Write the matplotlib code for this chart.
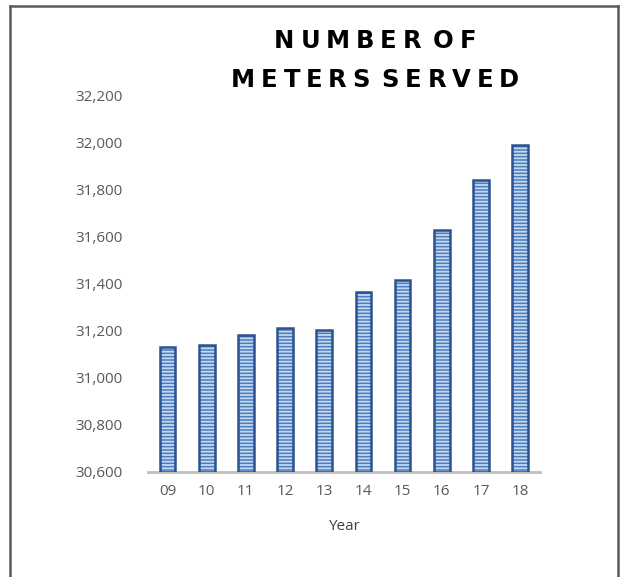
import matplotlib.pyplot as plt
import numpy as np
from matplotlib.lines import Line2D
from matplotlib.font_manager import FontProperties
from matplotlib.ticker import FuncFormatter

years = ['09', '10', '11', '12', '13', '14', '15', '16', '17', '18']
meters = [31132, 31140, 31183, 31213, 31204, 31366, 31417, 31630, 31843, 31991]
yticks = [30600, 30800, 31000, 31200, 31400, 31600, 31800, 32000, 32200]
title_lines = ['NUMBER OF', 'METERS SERVED']

W, H = 624, 577
plt.rcParams['hatch.linewidth'] = 1.3

fig = plt.figure(figsize=(W / 100, H / 100), dpi=100)
ax = fig.add_axes([0.237, 0.182, 0.628, 0.652])

x = np.arange(len(years))
heights = [m - 30600 for m in meters]
# striped fill
ax.bar(x, heights, bottom=30600, width=0.4,
       color='#4A7CC0', edgecolor='#C6D8EF', hatch='-----', linewidth=0, zorder=2)
# dark outline
ax.bar(x, heights, bottom=30600, width=0.4,
       color='none', edgecolor='#2A5291', linewidth=1.8, zorder=3)

ax.set_xlim(-0.5, len(years) - 0.5)
ax.set_ylim(30600, 32200)
ax.set_yticks(yticks)
ax.yaxis.set_major_formatter(FuncFormatter(lambda v, p: '{:,.0f}'.format(v)))
ax.set_xticks(x)
ax.set_xticklabels(years)

for s in ['top', 'right', 'left']:
    ax.spines[s].set_visible(False)
ax.spines['bottom'].set_color('#BFBFBF')
ax.spines['bottom'].set_linewidth(2)
ax.tick_params(length=0, colors='#595959', labelsize=11)
ax.tick_params(axis='y', pad=18)
ax.tick_params(axis='x', pad=9)
for lbl in ax.get_xticklabels() + ax.get_yticklabels():
    lbl.set_family('Open Sans')

ax.set_xlabel('Year', fontsize=11, color='#404040', family='Open Sans', labelpad=14)

# title with wide letter spacing, drawn letter by letter
renderer = fig.canvas.get_renderer()
fp = FontProperties(family='DejaVu Sans', weight='bold', size=17.5)
tracking = 5.8   # extra px between letters
space_w = 0.0
cx = 375
baselines = [48, 87]
for line, base in zip(title_lines, baselines):
    widths = []
    for ch in line:
        if ch == ' ':
            widths.append(space_w)
        else:
            w, h, d = renderer.get_text_width_height_descent(ch, fp, ismath=False)
            widths.append(w)
    total = sum(widths) + tracking * (len(line) - 1)
    xpos = cx - total / 2
    for ch, w in zip(line, widths):
        if ch != ' ':
            fig.text(xpos / W, 1 - base / H, ch, fontproperties=fp, color='black',
                     ha='left', va='baseline')
        xpos += w + tracking

# outer frame (left, top, right)
frame = dict(color='#595959', linewidth=1.8, transform=fig.transFigure)
fig.add_artist(Line2D([10 / W, 10 / W], [0, 1 - 6 / H], **frame))
fig.add_artist(Line2D([10 / W, 618 / W], [1 - 6 / H, 1 - 6 / H], **frame))
fig.add_artist(Line2D([618 / W, 618 / W], [0, 1 - 6 / H], **frame))

fig.savefig('out.png', dpi=100)
